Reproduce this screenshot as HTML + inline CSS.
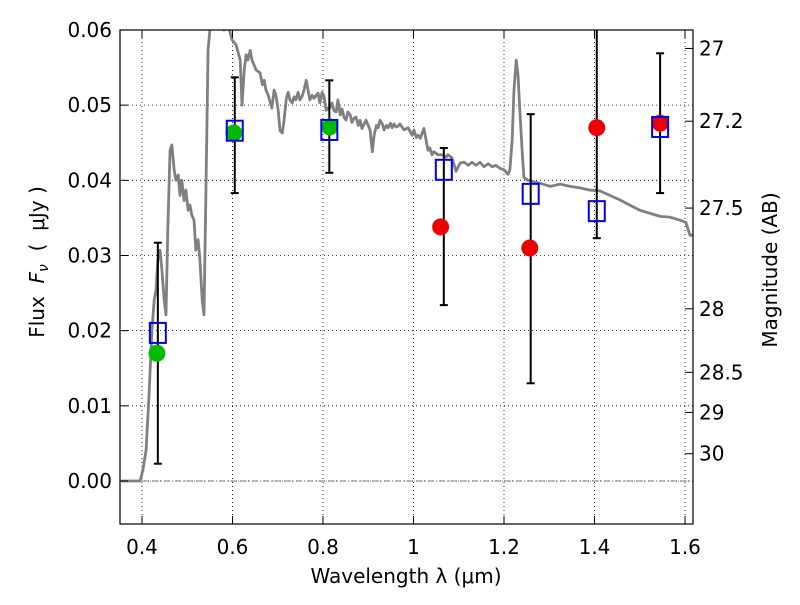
<!DOCTYPE html>
<html><head><meta charset="utf-8"><style>
body{margin:0;background:#fff;}
svg text{font-family:"DejaVu Sans","Liberation Sans",sans-serif;fill:#000;}
</style></head><body>
<svg id="chart" width="800" height="600" xmlns="http://www.w3.org/2000/svg">
<defs><clipPath id="clip"><rect x="120" y="30" width="573" height="494"/></clipPath></defs>
<rect width="800" height="600" fill="#fff"/>
<g id="grid"></g>
<g id="spec" clip-path="url(#clip)"></g>
<g id="marks" clip-path="url(#clip)"></g>
<rect x="120" y="30" width="573" height="494" fill="none" stroke="#000" stroke-width="1.2"/>
<g id="axes"></g>
<text x="406" y="583" font-size="20" text-anchor="middle">Wavelength  λ (μm)</text>
<text transform="translate(44,262) rotate(-90)" font-size="20" text-anchor="middle" xml:space="preserve">Flux  <tspan font-style="italic">F</tspan><tspan font-style="italic" font-size="14" dy="4">ν</tspan><tspan dy="-4">  (  μJy )</tspan></text>
<text transform="translate(777,270) rotate(-90)" font-size="20" text-anchor="middle">Magnitude (AB)</text>
</svg>
<script>
const xTicks=[0.4,0.6,0.8,1.0,1.2,1.4,1.6];
const xTickLabels=["0.4","0.6","0.8","1","1.2","1.4","1.6"];
const yTicks=[0,0.01,0.02,0.03,0.04,0.05,0.06];
const yTickLabels=["0.00","0.01","0.02","0.03","0.04","0.05","0.06"];
const magTicks=[27,27.2,27.5,28,28.5,29,30];
const magTickLabels=["27","27.2","27.5","28","28.5","29","30"];
const specWl=[0.354,0.396,0.402,0.409,0.415,0.422,0.427,0.431,0.435,0.440,0.444,0.449,0.453,0.457,0.462,0.466,0.471,0.475,0.480,0.484,0.488,0.493,0.497,0.502,0.506,0.510,0.515,0.519,0.524,0.528,0.533,0.537,0.541,0.546,0.550,0.555,0.564,0.572,0.581,0.590,0.599,0.608,0.617,0.621,0.626,0.630,0.634,0.639,0.643,0.648,0.652,0.661,0.666,0.670,0.674,0.679,0.687,0.692,0.696,0.701,0.705,0.710,0.714,0.719,0.723,0.727,0.732,0.736,0.740,0.745,0.749,0.754,0.758,0.763,0.767,0.771,0.776,0.780,0.785,0.789,0.793,0.798,0.802,0.807,0.811,0.816,0.820,0.824,0.829,0.833,0.838,0.842,0.847,0.851,0.855,0.860,0.864,0.869,0.873,0.878,0.882,0.886,0.891,0.895,0.900,0.904,0.909,0.913,0.918,0.922,0.926,0.931,0.935,0.940,0.944,0.949,0.953,0.957,0.961,0.966,0.970,0.979,0.988,0.997,1.001,1.006,1.010,1.015,1.023,1.028,1.032,1.036,1.041,1.045,1.054,1.063,1.072,1.076,1.085,1.094,1.103,1.112,1.121,1.129,1.138,1.147,1.156,1.165,1.174,1.182,1.191,1.200,1.209,1.213,1.218,1.222,1.227,1.231,1.235,1.240,1.244,1.253,1.280,1.302,1.324,1.346,1.368,1.390,1.412,1.434,1.456,1.478,1.501,1.523,1.545,1.567,1.589,1.602,1.611,1.620];
const specFlux=[0,0,0.0015,0.0041,0.0108,0.0201,0.0241,0.0254,0.0294,0.0307,0.0281,0.0241,0.0221,0.0334,0.0440,0.0447,0.0414,0.0400,0.0407,0.0380,0.0400,0.0373,0.0387,0.0360,0.0367,0.0354,0.0347,0.0307,0.0321,0.0294,0.0241,0.0221,0.0374,0.0573,0.0600,0.0607,0.0604,0.0614,0.0600,0.0607,0.0587,0.0580,0.0560,0.0500,0.0547,0.0567,0.0560,0.0573,0.0560,0.0553,0.0547,0.0543,0.0527,0.0533,0.0520,0.0513,0.0496,0.0520,0.0513,0.0493,0.0466,0.0463,0.0480,0.0509,0.0517,0.0507,0.0503,0.0511,0.0507,0.0517,0.0507,0.0512,0.0520,0.0533,0.0520,0.0507,0.0513,0.0509,0.0513,0.0516,0.0503,0.0517,0.0512,0.0493,0.0496,0.0497,0.0503,0.0493,0.0491,0.0507,0.0487,0.0495,0.0483,0.0480,0.0491,0.0487,0.0477,0.0483,0.0484,0.0473,0.0480,0.0469,0.0475,0.0480,0.0473,0.0467,0.0438,0.0460,0.0473,0.0470,0.0480,0.0475,0.0467,0.0473,0.0470,0.0476,0.0470,0.0475,0.0471,0.0472,0.0475,0.0467,0.0470,0.0460,0.0467,0.0457,0.0460,0.0456,0.0469,0.0453,0.0440,0.0443,0.0434,0.0438,0.0434,0.0434,0.0431,0.0434,0.0430,0.0412,0.0423,0.0424,0.0420,0.0424,0.0420,0.0424,0.0418,0.0422,0.0418,0.0420,0.0416,0.0414,0.0408,0.0414,0.0453,0.0520,0.0560,0.0540,0.0493,0.0440,0.0404,0.0400,0.0396,0.0392,0.0395,0.0392,0.0390,0.0387,0.0386,0.0380,0.0374,0.0367,0.0360,0.0356,0.0352,0.0351,0.0347,0.0344,0.0327,0.0327];
const modelWl=[0.435,0.605,0.814,1.067,1.259,1.405,1.545];
const modelFlux=[0.0197,0.0466,0.0467,0.0414,0.0382,0.0359,0.0471];
const errTop=[0.0317,0.0537,0.0533,0.0443,0.0488,0.0640,0.0569];
const errBot=[0.0023,0.0383,0.0410,0.0234,0.0130,0.0323,0.0383];
const greenWl=[0.433,0.603,0.815];
const greenFlux=[0.0170,0.0463,0.0471];
const redWl=[1.060,1.257,1.405,1.545];
const redFlux=[0.0338,0.0310,0.0470,0.0476];

const NS="http://www.w3.org/2000/svg";
const X=v=>142+(v-0.4)*452.5;
const Y=f=>481-f*7517;
const M=m=>Math.pow(10,(23.9-m)/2.5);
function mk(tag,attrs,parent){const e=document.createElementNS(NS,tag);for(const k in attrs)e.setAttribute(k,attrs[k]);document.getElementById(parent).appendChild(e);return e;}
xTicks.forEach((v,i)=>{
 const g=mk('line',{x1:X(v),x2:X(v),y1:30,y2:524,stroke:'#000','stroke-width':0.8,'stroke-dasharray':'1,3'},'grid');
 
 
 mk('line',{x1:X(v),x2:X(v),y1:524,y2:516,stroke:'#000'},'axes');
 mk('line',{x1:X(v),x2:X(v),y1:30,y2:38,stroke:'#000'},'axes');
 const t=mk('text',{x:X(v),y:554,'font-size':20,'text-anchor':'middle'},'axes');t.textContent=xTickLabels[i];
 
 
});
yTicks.forEach((v,i)=>{
 const g=mk('line',{x1:120,x2:693,y1:Y(v),y2:Y(v),stroke:'#000','stroke-width':0.8,'stroke-dasharray':'1,3'},'grid');
 
 
 mk('line',{x1:120,x2:128,y1:Y(v),y2:Y(v),stroke:'#000'},'axes');
 const t=mk('text',{x:112,y:Y(v)+7,'font-size':20,'text-anchor':'end'},'axes');t.textContent=yTickLabels[i];
 
 
});
magTicks.forEach((m,i)=>{
 const y=Y(M(m));
 mk('line',{x1:685,x2:693,y1:y,y2:y,stroke:'#000'},'axes');
 const t=mk('text',{x:699,y:y+7,'font-size':20},'axes');t.textContent=magTickLabels[i];
 
 
});
const z=mk('line',{x1:120,x2:693,y1:Y(0),y2:Y(0),stroke:'#555','stroke-width':0.8,'stroke-dasharray':'6,2,1,2'},'grid');


const sp=mk('polyline',{points:specWl.map((w,i)=>X(w)+','+Y(specFlux[i])).join(' '),fill:'none',stroke:'#808080','stroke-width':2.8,'stroke-linejoin':'round'},'spec');


modelWl.forEach((w,i)=>{
 const x=X(w);
 const e=mk('g',{},'marks');
 
 
 mk('line',{x1:x,x2:x,y1:Y(errTop[i]),y2:Y(errBot[i]),stroke:'#000','stroke-width':2},'marks');
 mk('line',{x1:x-4,x2:x+4,y1:Y(errTop[i]),y2:Y(errTop[i]),stroke:'#000','stroke-width':2},'marks');
 mk('line',{x1:x-4,x2:x+4,y1:Y(errBot[i]),y2:Y(errBot[i]),stroke:'#000','stroke-width':2},'marks');
});
greenWl.forEach((w,i)=>{
 const c=mk('circle',{cx:X(w),cy:Y(greenFlux[i]),r:8.5,fill:'#00bb00'},'marks');
 
 
});
redWl.forEach((w,i)=>{
 const c=mk('circle',{cx:X(w),cy:Y(redFlux[i]),r:8.5,fill:'#ee0000'},'marks');
 
 
});
modelWl.forEach((w,i)=>{
 const r=mk('rect',{x:X(w)-8,y:Y(modelFlux[i])-10,width:16,height:20,fill:'none',stroke:'#0000ee','stroke-width':2},'marks');
 
 
});
</script>
</body></html>
